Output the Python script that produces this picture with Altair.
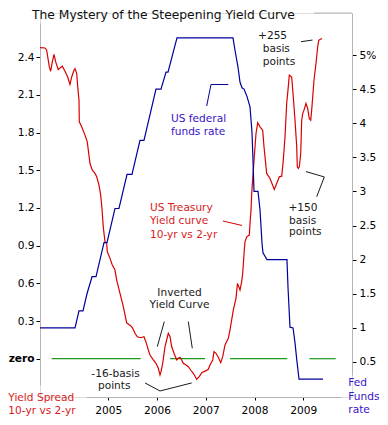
import altair as alt
import pandas as pd

# ---------------- data ----------------
# 10-yr minus 2-yr Treasury spread (left axis, percentage points)
red_year = [2003.599, 2003.702, 2003.736, 2003.790, 2003.818, 2003.851, 2003.886, 2003.921,
            2003.974, 2004.009, 2004.056, 2004.112, 2004.167, 2004.214, 2004.249, 2004.296,
            2004.317, 2004.352, 2004.372, 2004.399, 2004.405, 2004.454, 2004.522, 2004.569,
            2004.590, 2004.625, 2004.672, 2004.727, 2004.762, 2004.809, 2004.844, 2004.871,
            2004.897, 2004.932, 2004.967, 2004.979, 2005.035, 2005.082, 2005.137, 2005.172,
            2005.240, 2005.308, 2005.377, 2005.459, 2005.501, 2005.548, 2005.595, 2005.665,
            2005.732, 2005.784, 2005.821, 2005.855, 2005.923, 2005.978, 2006.026, 2006.061,
            2006.081, 2006.116, 2006.163, 2006.231, 2006.266, 2006.301, 2006.348, 2006.403,
            2006.436, 2006.471, 2006.506, 2006.538, 2006.594, 2006.641, 2006.690, 2006.744,
            2006.813, 2006.867, 2006.916, 2007.004, 2007.051, 2007.086, 2007.142, 2007.168,
            2007.209, 2007.256, 2007.306, 2007.347, 2007.394, 2007.462, 2007.496, 2007.564,
            2007.619, 2007.650, 2007.702, 2007.736, 2007.757, 2007.790, 2007.804, 2007.839,
            2007.892, 2007.907, 2007.927, 2007.942, 2007.989, 2008.030, 2008.065, 2008.112,
            2008.167, 2008.194, 2008.249, 2008.317, 2008.405, 2008.454, 2008.508, 2008.557,
            2008.590, 2008.625, 2008.659, 2008.692, 2008.713, 2008.762, 2008.795, 2008.830,
            2008.865, 2008.877, 2008.897, 2008.918, 2008.947, 2008.967, 2008.988, 2009.014,
            2009.055, 2009.090, 2009.123, 2009.152, 2009.172, 2009.193, 2009.219, 2009.260,
            2009.295, 2009.316, 2009.343, 2009.384]
red_spread = [2.477, 2.474, 2.456, 2.323, 2.289, 2.363, 2.422, 2.363,
              2.302, 2.315, 2.329, 2.289, 2.243, 2.183, 2.243, 2.297,
              2.310, 2.270, 2.170, 2.058, 1.886, 1.846, 1.780, 1.726,
              1.660, 1.554, 1.501, 1.475, 1.448, 1.382, 1.302, 1.190,
              1.050, 0.931, 0.918, 0.851, 0.799, 0.746, 0.706, 0.626,
              0.520, 0.414, 0.285, 0.263, 0.242, 0.202, 0.175, 0.167,
              0.175, 0.120, 0.069, 0.029, -0.010, -0.037, -0.076, -0.130,
              -0.103, -0.037, 0.095, 0.202, 0.175, 0.095, 0.043, -0.010,
              0.003, 0.011, -0.010, -0.037, -0.050, -0.064, -0.090, -0.116,
              -0.164, -0.143, -0.111, -0.095, -0.084, -0.050, -0.010, 0.056,
              0.043, 0.011, -0.032, 0.016, 0.109, 0.162, 0.228, 0.387,
              0.480, 0.600, 0.547, 0.613, 0.680, 0.865, 0.931, 0.970,
              0.984, 1.077, 1.183, 1.316, 1.581, 1.793, 1.878, 1.846,
              1.819, 1.687, 1.475, 1.435, 1.348, 1.395, 1.448, 1.453,
              1.581, 1.766, 2.032, 2.164, 2.257, 2.243, 2.084, 1.899,
              1.687, 1.527, 1.515, 1.527, 1.634, 1.899, 1.952, 1.979,
              2.032, 1.992, 1.912, 1.899, 1.979, 2.084, 2.217, 2.350,
              2.482, 2.535, 2.541, 2.549]

# US federal funds rate (right axis, %)
fed_year = [2003.599, 2004.317, 2004.399, 2004.481, 2004.563, 2004.666, 2004.748, 2004.830,
            2004.912, 2004.973, 2005.137, 2005.219, 2005.384, 2005.486, 2005.650, 2005.732,
            2005.978, 2006.081, 2006.184, 2006.225, 2006.409, 2007.558, 2007.599, 2007.661,
            2007.702, 2007.743, 2007.784, 2007.846, 2007.907, 2007.948, 2007.968, 2007.989,
            2008.071, 2008.112, 2008.153, 2008.173, 2008.255, 2008.665, 2008.686, 2008.727,
            2008.790, 2008.830, 2008.871, 2008.912, 2009.405]
fed_rate = [1.00, 1.00, 1.25, 1.25, 1.50, 1.75, 1.75, 2.00,
            2.25, 2.25, 2.75, 2.75, 3.25, 3.25, 3.75, 3.75,
            4.50, 4.50, 4.75, 4.75, 5.25, 5.25, 5.07, 4.82,
            4.60, 4.52, 4.50, 4.39, 4.24, 3.86, 3.46, 3.00,
            3.00, 2.73, 2.24, 2.10, 2.00, 2.00, 1.60, 1.01,
            1.00, 0.78, 0.50, 0.25, 0.25]

# green "zero" reference line pieces
zero_start = [2003.839, 2006.266, 2007.497, 2009.123]
zero_end = [2005.665, 2006.984, 2008.672, 2009.665]

# tick values
year_ticks = [2005, 2006, 2007, 2008, 2009]
spread_ticks = [0, 0.3, 0.6, 0.9, 1.2, 1.5, 1.8, 2.1, 2.4]
rate_ticks = [0.5, 1, 1.5, 2, 2.5, 3, 3.5, 4, 4.5, 5]

# annotations (left aligned), placed in (year, spread) units
note_text = ["US federal", "funds rate", "US Treasury", "Yield curve", "10-yr vs 2-yr",
             "+255", "basis", "points", "+150", "basis", "points",
             "Fed", "Funds", "rate", "Yield Spread", "10-yr vs 2-yr"]
note_year = [2006.286, 2006.286, 2005.855, 2005.855, 2005.855,
             2008.071, 2008.167, 2008.167, 2008.696, 2008.707, 2008.707,
             2009.923, 2009.923, 2009.923, 2002.949, 2002.949]
note_level = [1.906, 1.803, 1.196, 1.094, 0.988,
              2.571, 2.469, 2.366, 1.196, 1.098, 1.005,
              -0.197, -0.303, -0.408, -0.311, -0.415]
note_ink = ["blue", "blue", "red", "red", "red",
            "dark", "dark", "dark", "dark", "dark", "dark",
            "blue", "blue", "blue", "red", "red"]

# annotations (centred)
ctr_text = ["Inverted", "Yield Curve", "-16-basis", "points"]
ctr_year = [2006.461, 2006.461, 2005.148, 2005.121]
ctr_level = [0.523, 0.424, -0.118, -0.216]

title_text = ["The Mystery of the Steepening Yield Curve"]
title_year = [2003.435]
title_level = [2.734]

# pointer lines (group, year, spread)
ptr_group = ["inv1", "inv1", "inv2", "inv2", "m16", "m16", "m16",
             "p150", "p150", "p150", "p255", "p255",
             "fed", "fed", "fed", "ust", "ust"]
ptr_ink = ["dark", "dark", "dark", "dark", "dark", "dark", "dark",
           "dark", "dark", "dark", "dark", "dark",
           "blue", "blue", "blue", "red", "red"]
ptr_year = [2006.149, 2006.005, 2006.641, 2006.723, 2005.753, 2006.061, 2006.711,
            2009.055, 2009.431, 2009.275, 2008.953, 2009.189,
            2007.018, 2007.107, 2007.462, 2007.353, 2007.743]
ptr_level = [0.295, 0.096, 0.295, 0.083, -0.193, -0.257, -0.193,
             1.490, 1.447, 1.290, 2.524, 2.537,
             2.012, 2.183, 2.183, 1.096, 1.061]

# short frame piece next to the title
frame_start = [2009.220]
frame_end = [2009.999]
frame_level = [2.752]

# ---------------- build ----------------
FONT = "DejaVu Sans"
GREY = "#b4b4b4"
ink_scale = alt.Scale(domain=["blue", "red", "dark"], range=["#3a14c8", "#d81c1c", "#1a1a1a"])
line_ink = alt.Scale(domain=["blue", "red", "dark"], range=["#00009e", "#d80000", "#1a1a1a"])

xs = alt.Scale(domain=[2004.5426, 2009.7672], range=[46, 300.7])
ys_left = alt.Scale(domain=[-0.2094, 2.6728], range=[372, 10])
ys_right = alt.Scale(domain=[0.3094, 5.6158], range=[362, 0])

red_df = pd.DataFrame({"year": red_year, "spread": red_spread})
fed_df = pd.DataFrame({"year": fed_year, "rate": fed_rate})
zero_df = pd.DataFrame({"year": zero_start, "x1": zero_end, "spread": [0] * len(zero_start)})
note_df = pd.DataFrame({"t": note_text, "year": note_year, "spread": note_level, "ink": note_ink})
ctr_df = pd.DataFrame({"t": ctr_text, "year": ctr_year, "spread": ctr_level})
title_df = pd.DataFrame({"t": title_text, "year": title_year, "spread": title_level})
ptr_df = pd.DataFrame({"g": ptr_group, "ink": ptr_ink, "year": ptr_year, "spread": ptr_level,
                       "order": list(range(len(ptr_group)))})
frame_df = pd.DataFrame({"year": frame_start, "x1": frame_end, "spread": frame_level})

x_axis = alt.Axis(orient="bottom", values=year_ticks, format="d", title=None, grid=False,
                  domainColor=GREY, tickColor="#000000", tickSize=3, labelPadding=5,
                  labelFontSize=10.6, labelColor="#000000", labelFont=FONT,
                  labelFlush=False, labelOverlap=False)
left_axis = alt.Axis(orient="left", values=spread_ticks, title=None, grid=False,
                     labelExpr="datum.value == 0 ? 'zero' : format(datum.value, '.1f')",
                     labelFontWeight={"condition": {"test": "datum.value == 0", "value": "bold"},
                                      "value": "normal"},
                     domainColor=GREY, tickColor="#000000", tickSize=4, labelPadding=2,
                     labelFontSize=10.6, labelColor="#000000", labelFont=FONT,
                     labelFlush=False, labelOverlap=False)
right_axis = alt.Axis(orient="right", values=rate_ticks, title=None, grid=False,
                      labelExpr="datum.value == 5 ? '5%' : format(datum.value, '')",
                      domainColor=GREY, tickColor="#000000", tickSize=4, labelPadding=3,
                      labelFontSize=10.6, labelColor="#000000", labelFont=FONT,
                      labelFlush=False, labelOverlap=False)

X = alt.X("year:Q", scale=xs, axis=x_axis)
YL = alt.Y("spread:Q", scale=ys_left, axis=left_axis)

red = alt.Chart(red_df).mark_line(color="#d80000", strokeWidth=1.2).encode(x=X, y=YL)
zero = alt.Chart(zero_df).mark_rule(color="#1f9a1f", strokeWidth=1.2).encode(
    x=X, x2="x1:Q", y=YL)
frame = alt.Chart(frame_df).mark_rule(color=GREY, strokeWidth=1).encode(
    x=X, x2="x1:Q", y=YL)
ptr = alt.Chart(ptr_df).mark_line(strokeWidth=1).encode(
    x=X, y=YL, detail="g:N", order="order:Q",
    color=alt.Color("ink:N", scale=line_ink, legend=None),
)
notes = alt.Chart(note_df).mark_text(align="left", baseline="middle", font=FONT, fontSize=10.6).encode(
    x=X, y=YL, text="t:N",
    color=alt.Color("ink:N", scale=ink_scale, legend=None),
)
ctr = alt.Chart(ctr_df).mark_text(align="center", baseline="middle", font=FONT, fontSize=10.6,
                                  color="#1a1a1a").encode(x=X, y=YL, text="t:N")
title = alt.Chart(title_df).mark_text(align="left", baseline="middle", font=FONT, fontSize=12.3,
                                      color="#111111").encode(x=X, y=YL, text="t:N")

left_part = alt.layer(zero, red, ptr, notes, ctr, title, frame).resolve_scale(color="independent")

blue = alt.Chart(fed_df).mark_line(color="#00009e", strokeWidth=1.2).encode(
    x=X,
    y=alt.Y("rate:Q", scale=ys_right, axis=right_axis),
)

chart = alt.layer(left_part, blue).resolve_scale(y="independent").properties(
    width=312, height=384,
    autosize=alt.AutoSizeParams(type="none"),
    padding={"left": 32, "top": 5, "right": 28, "bottom": 20},
    background="#ffffff",
).configure_view(stroke=None).configure(font=FONT)

chart.save("out.html", embed_options={"renderer": "svg", "actions": False})
